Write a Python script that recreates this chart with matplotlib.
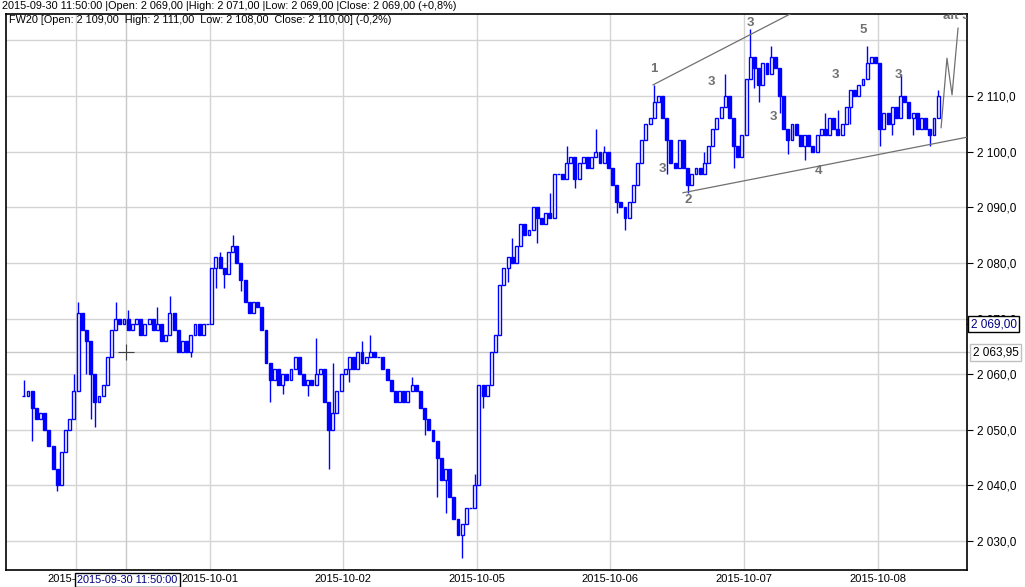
import matplotlib.pyplot as plt
import numpy as np

plt.rcParams['font.family'] = ['Liberation Sans', 'DejaVu Sans']

# session labels on the x axis (one trading day per unit)
day_labels = ['2015-09-30', '2015-10-01', '2015-10-02', '2015-10-05',
              '2015-10-06', '2015-10-07', '2015-10-08']
bars_per_day = 32   # 15 minute bars
pre_start = 19      # first visible bar slot of the 2015-09-29 session

# closes, 15 min bars
pre_close = [2056, 2057, 2054, 2052, 2053, 2050, 2047, 2043, 2040, 2046, 2050, 2052, 2057]
day_closes = [
    [2071, 2068, 2066, 2060, 2055, 2056, 2058, 2063, 2068, 2070, 2069, 2070, 2068, 2069, 2070, 2067,
     2069, 2070, 2068, 2069, 2066, 2067, 2071, 2068, 2064, 2066, 2064, 2067, 2069, 2067, 2069, 2069],
    [2079, 2081, 2079, 2078, 2082, 2083, 2080, 2077, 2073, 2071, 2073, 2072, 2068, 2062, 2059, 2061,
     2058, 2060, 2059, 2061, 2063, 2060, 2058, 2059, 2058, 2060, 2061, 2055, 2050, 2053, 2057, 2060],
    [2061, 2063, 2061, 2064, 2062, 2063, 2064, 2063, 2063, 2061, 2059, 2057, 2055, 2057, 2055, 2057,
     2058, 2057, 2054, 2052, 2050, 2048, 2045, 2041, 2043, 2038, 2034, 2031, 2033, 2036, 2036, 2040],
    [2058, 2056, 2058, 2064, 2067, 2076, 2079, 2081, 2080, 2083, 2087, 2085, 2086, 2090, 2088, 2087,
     2089, 2088, 2096, 2096, 2095, 2098, 2099, 2095, 2098, 2099, 2097, 2099, 2100, 2098, 2100, 2097],
    [2094, 2091, 2090, 2088, 2091, 2094, 2098, 2102, 2105, 2106, 2109, 2110, 2106, 2102, 2098, 2097,
     2102, 2097, 2094, 2096, 2097, 2096, 2098, 2101, 2104, 2106, 2108, 2110, 2106, 2101, 2099, 2103],
    [2113, 2117, 2115, 2112, 2116, 2114, 2117, 2115, 2110, 2104, 2102, 2105, 2103, 2101, 2103, 2101,
     2100, 2103, 2104, 2103, 2106, 2104, 2103, 2105, 2108, 2111, 2110, 2112, 2113, 2116, 2117, 2116],
    [2104, 2107, 2105, 2108, 2106, 2110, 2109, 2106, 2107, 2104, 2106, 2104, 2103, 2106, 2110],
]
first_open = 2056

# (day, bar, price) for the visible wick extremes, day -1 = 2015-09-29
wick_highs = [(-1, 0, 2059), (-1, 12, 2060), (0, 0, 2073), (0, 1, 2070), (0, 9, 2073),
              (0, 12, 2071.5), (0, 19, 2072), (0, 22, 2074), (1, 2, 2082), (1, 5, 2085),
              (1, 25, 2066.5), (1, 29, 2062), (2, 4, 2066), (2, 6, 2067), (2, 16, 2059.5),
              (2, 31, 2042), (3, 8, 2084.5), (3, 17, 2092.5), (3, 21, 2101), (3, 28, 2104),
              (3, 30, 2101), (4, 10, 2112), (4, 22, 2100), (4, 27, 2114), (5, 1, 2122),
              (5, 6, 2119), (5, 19, 2107), (5, 22, 2107.5), (5, 29, 2119), (6, 5, 2114),
              (6, 14, 2111)]
wick_lows = [(-1, 2, 2048), (-1, 8, 2039), (0, 2, 2060), (0, 3, 2052), (0, 4, 2050.5),
             (0, 27, 2063), (1, 1, 2075.5), (1, 3, 2075.5), (1, 7, 2075), (1, 14, 2055),
             (1, 17, 2056.5), (1, 23, 2056), (1, 28, 2043), (2, 1, 2058.5), (2, 19, 2049),
             (2, 22, 2038), (2, 24, 2035), (2, 28, 2027), (3, 0, 2054), (3, 1, 2054),
             (3, 7, 2076.5), (3, 14, 2083.5), (3, 23, 2093.5), (4, 1, 2089), (4, 3, 2086),
             (4, 13, 2096), (4, 18, 2092.5), (4, 29, 2097), (5, 2, 2111.5), (5, 3, 2109),
             (5, 8, 2107), (5, 10, 2099.5), (5, 14, 2098.5), (5, 25, 2105), (6, 0, 2101),
             (6, 3, 2103), (6, 8, 2103), (6, 12, 2101)]

# drawn wave count and channel lines
wave_labels = ['1', '3', '2', '3', '3', '3', '4', '3', '5', '3', 'alt 5']
wave_x = [4.326, 4.386, 4.581, 4.753, 5.045, 5.217, 5.561, 5.681, 5.891, 6.153, 6.590]
wave_y = [2114.9, 2096.9, 2091.3, 2112.5, 2123.1, 2106.2, 2096.5, 2113.8, 2121.9, 2113.8, 2124.4]
upper_x = [4.319, 5.60]
upper_y = [2112.0, 2127.9]
lower_x = [4.543, 6.67]
lower_y = [2092.6, 2102.6]
alt_x = [6.475, 6.519, 6.557, 6.602]
alt_y = [2104.3, 2116.8, 2110.2, 2122.2]

cross_x, cross_y = 0.374, 2063.95
cross_close = 2069.0

# ---- build bars
xs = [-1 + (pre_start + i + 0.5) / bars_per_day for i in range(len(pre_close))]
closes = list(pre_close)
for d, day in enumerate(day_closes):
    xs += [d + (i + 0.5) / bars_per_day for i in range(len(day))]
    closes += day
xs = np.array(xs)
c = np.array(closes, dtype=float)
o = np.concatenate([[first_open], c[:-1]])
hi = np.maximum(o, c)
lo = np.minimum(o, c)


def idx(day, bar):
    if day < 0:
        return bar
    return len(pre_close) + bars_per_day * day + bar


for d, b, v in wick_highs:
    hi[idx(d, b)] = max(hi[idx(d, b)], v)
for d, b, v in wick_lows:
    lo[idx(d, b)] = min(lo[idx(d, b)], v)

W, H = 1025, 587
fig = plt.figure(figsize=(W / 100, H / 100), dpi=100)
ax = fig.add_axes([6 / W, 1 - 570 / H, 961 / W, 556 / H])
ax.set_xlim(-0.524, 6.669)
ax.set_ylim(2024.79, 2124.74)

blue = '#0000ff'
grid = '#d4d4d4'
for d in range(len(day_labels)):
    ax.axvline(d, color=grid, lw=1, zorder=0)
for p in range(2030, 2121, 10):
    ax.axhline(p, color=grid, lw=1, zorder=0)

# crosshair
ax.axvline(cross_x, color='#c8c8c8', lw=1, zorder=1)
ax.axhline(cross_y, color='#c8c8c8', lw=1, zorder=1)
ax.plot([1.0, 1.03], [cross_y, cross_y], color='#c8c8c8', lw=1,
        transform=ax.get_yaxis_transform(), clip_on=False)

w = 0.7 / bars_per_day
up = c >= o
ax.vlines(xs, lo, hi, color=blue, lw=1, zorder=3)
ax.bar(xs[up], (c - o)[up], bottom=o[up], width=w, facecolor='white',
       edgecolor=blue, lw=1, zorder=4)
ax.bar(xs[~up], (c - o)[~up], bottom=o[~up], width=w, facecolor=blue,
       edgecolor=blue, lw=1, zorder=4)

ax.plot(cross_x, cross_y, marker='+', color='#404040', ms=12, mew=0.8, zorder=6)

# annotations
ax.plot(upper_x, upper_y, color='#707070', lw=0.9, zorder=5)
ax.plot(lower_x, lower_y, color='#707070', lw=0.9, zorder=5)
ax.plot(alt_x, alt_y, color='#707070', lw=0.9, zorder=5)
for t, x, y in zip(wave_labels, wave_x, wave_y):
    ax.text(x, y, t, color='#707070', fontsize=9.5, fontweight='bold',
            ha='center', va='center', zorder=6, clip_on=True)

# axes styling
for s in ax.spines.values():
    s.set_color('black')
    s.set_linewidth(1.2)
ax.set_xticks(range(len(day_labels)))
ax.set_xticklabels(day_labels, fontsize=8)
ax.tick_params(axis='x', length=0, pad=3)
ax.yaxis.tick_right()
yt = list(range(2030, 2111, 10))
ax.set_yticks(yt)
ax.set_yticklabels(['2 %03d,0' % (v - 2000) for v in yt], fontsize=8.5)
ax.tick_params(axis='y', length=4, pad=3)

# header lines
fig.text(2 / W, 1 - 6 / H,
         '2015-09-30 11:50:00 |Open: 2 069,00 |High: 2 071,00 |Low: 2 069,00 |Close: 2 069,00 (+0,8%)',
         fontsize=7.8, va='center', ha='left')
ax.text(3 / 961, 1 - 6 / 556,
        'FW20 [Open: 2 109,00  High: 2 111,00  Low: 2 108,00  Close: 2 110,00] (-0,2%)',
        transform=ax.transAxes, fontsize=7.8, va='center', ha='left', zorder=7)

# crosshair value boxes
box = dict(boxstyle='square,pad=0.2', facecolor='white', edgecolor='black', lw=1)
ax.text(cross_x + 0.01, -0.009, '2015-09-30 11:50:00', transform=ax.get_xaxis_transform(),
        ha='center', va='top', fontsize=7.8, color='#00007f', bbox=box, zorder=10, clip_on=False)
ax.text(1.004, cross_close, '2 069,00', transform=ax.get_yaxis_transform(),
        ha='left', va='center', fontsize=8.5, color='#00007f', bbox=box, zorder=10, clip_on=False)
ax.plot([1.0, 1.004], [cross_close, cross_close], color=blue, lw=1,
        transform=ax.get_yaxis_transform(), clip_on=False)
box2 = dict(boxstyle='square,pad=0.2', facecolor='white', edgecolor='#c0c0c0', lw=1)
ax.text(1.006, cross_y, '2 063,95', transform=ax.get_yaxis_transform(),
        ha='left', va='center', fontsize=8.5, color='black', bbox=box2, zorder=10, clip_on=False)

fig.savefig('out.png', dpi=100)
